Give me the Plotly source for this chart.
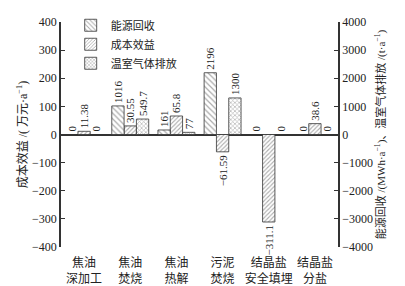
import plotly.graph_objects as go

categories = ["焦油<br>深加工", "焦油<br>焚烧", "焦油<br>热解", "污泥<br>焚烧", "结晶盐<br>安全填埋", "结晶盐<br>分盐"]
energy = [0, 1016, 161, 2196, 0, 0]          # 能源回收 MWh/a (right axis)
cost = [11.38, 30.55, 65.8, -61.59, -311.1, 38.6]  # 成本效益 万元/a (left axis)
ghg = [0, 549.7, 77, 1300, 0, 0]              # 温室气体排放 t/a (right axis)
left_ticks = [-400, -300, -200, -100, 0, 100, 200, 300, 400]
right_ticks = [-4000, -3000, -2000, -1000, 0, 1000, 2000, 3000, 4000]

FONT = "'Liberation Serif', 'Times New Roman', 'Noto Sans CJK SC', serif"
LINE = "#333333"


def lab(vals):
    return [f"{v:g}".replace("-", "\u2212") for v in vals]


fig = go.Figure()
common = dict(textposition="outside", textangle=-90, cliponaxis=False,
              constraintext="none",
              textfont=dict(family=FONT, size=11, color="#222"),
              alignmentgroup="g")
fig.add_trace(go.Bar(
    x=categories, y=energy, name="能源回收", yaxis="y2", offsetgroup="a",
    text=lab(energy),
    marker=dict(color="white", line=dict(color=LINE, width=0.8),
                pattern=dict(shape="\\", fgcolor="#555", bgcolor="white", size=4, solidity=0.3)),
    **common))
fig.add_trace(go.Bar(
    x=categories, y=cost, name="成本效益", yaxis="y", offsetgroup="b",
    text=lab(cost),
    marker=dict(color="white", line=dict(color=LINE, width=0.8),
                pattern=dict(shape="/", fgcolor="#555", bgcolor="white", size=3, solidity=0.35)),
    **common))
fig.add_trace(go.Bar(
    x=categories, y=ghg, name="温室气体排放", yaxis="y2", offsetgroup="c",
    text=lab(ghg),
    marker=dict(color="white", line=dict(color=LINE, width=0.8),
                pattern=dict(shape="x", fgcolor="#666", bgcolor="white", size=3, solidity=0.4)),
    **common))

fig.update_layout(
    width=405, height=286,
    margin=dict(l=61, r=67, t=22, b=39, autoexpand=False),
    paper_bgcolor="white", plot_bgcolor="white",
    font=dict(family=FONT, size=12, color="#222"),
    barmode="group", bargap=0.2, bargroupgap=0,
    showlegend=True,
    legend=dict(x=0.035, y=1.05, xanchor="left", yanchor="top",
                bgcolor="rgba(0,0,0,0)", font=dict(size=11), tracegroupgap=0,
                itemwidth=30),
    xaxis=dict(showline=False, ticks="", showgrid=False, zeroline=False,
               tickfont=dict(size=12), ticklabelstandoff=7),
    yaxis=dict(range=[-400, 400], tickvals=left_ticks, automargin=True,
               showline=True, linecolor=LINE, linewidth=1.5,
               ticks="inside", ticklen=4, tickcolor=LINE, tickwidth=1.2,
               showgrid=False, zeroline=True, zerolinecolor=LINE, zerolinewidth=1.5,
               tickfont=dict(size=12),
               title=dict(text="成本效益 /( 万元·a<sup>−1</sup>)", font=dict(size=12), standoff=2)),
    yaxis2=dict(range=[-4000, 4000], tickvals=right_ticks, overlaying="y", side="right",
                automargin=True,
                showline=True, linecolor=LINE, linewidth=1.5,
                ticks="inside", ticklen=4, tickcolor=LINE, tickwidth=1.2,
                showgrid=False, zeroline=False,
                tickfont=dict(size=12),
                title=dict(text="能源回收 /(MWh·a<sup>−1</sup>)、温室气体排放 /(t·a<sup>−1</sup>)",
                           font=dict(size=11), standoff=2)),
)

fig.write_html("out.html", config={"displayModeBar": False},
               post_script="document.body.style.margin='0';")
